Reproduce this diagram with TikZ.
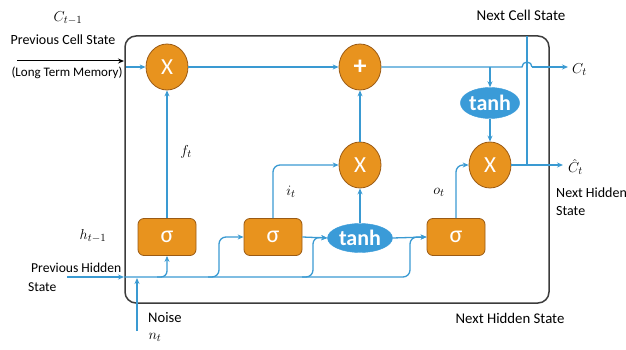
\documentclass[tikz,border=0pt]{standalone}
\usepackage{fontspec}
\setmainfont{Carlito}
\usetikzlibrary{arrows.meta,shapes.geometric}

\definecolor{gateorange}{HTML}{E8931E}
\definecolor{gateedge}{HTML}{9A5A14}
\definecolor{flowblue}{HTML}{3A9AD2}
\definecolor{tanhblue}{HTML}{3A9BD8}
\definecolor{framegray}{HTML}{3C3C3C}

\tikzset{
  flow/.style={draw=flowblue, line width=1.3pt, -{Stealth[length=6pt,width=5pt]}},
  plainflow/.style={draw=flowblue, line width=1.3pt},
  opgate/.style={ellipse, fill=gateorange, draw=gateedge, line width=0.8pt,
    minimum width=42pt, minimum height=46pt, inner sep=0pt,
    text=white, font=\fontsize{23}{23}\selectfont},
  sigbox/.style={rectangle, rounded corners=6pt, fill=gateorange, draw=gateedge,
    line width=0.8pt, minimum width=58pt, minimum height=37pt, inner sep=0pt,
    text=white, font=\fontsize{24}{24}\selectfont},
  tanhnode/.style={ellipse, fill=tanhblue, draw=tanhblue, inner sep=0pt,
    text=white, font=\bfseries\fontsize{22}{22}\selectfont},
  lbl/.style={inner sep=0pt, font=\fontsize{14}{16}\selectfont},
  mathlbl/.style={inner sep=0pt, font=\fontsize{15}{15}\selectfont}
}

\begin{document}
\begin{tikzpicture}[x=1pt, y=-1pt]
\useasboundingbox (0,0) rectangle (626,350);

% cell frame
\draw[framegray, line width=1.5pt, rounded corners=11pt] (125,36) rectangle (549,303);

% operations
\node[opgate] (fX) at (167,67) {X};
\node[opgate, font=\bfseries\fontsize{26}{26}\selectfont] (plus) at (360,67) {+};
\node[opgate] (mX) at (360,165) {X};
\node[opgate] (oX) at (490,165) {X};
\node[tanhnode, minimum width=58pt, minimum height=31pt] (tt) at (490,103) {tanh};
\node[tanhnode, minimum width=65pt, minimum height=29pt] (tm) at (360,238) {tanh};
\node[sigbox] (s1) at (167,237) {σ};
\node[sigbox] (s2) at (273,237) {σ};
\node[sigbox] (s3) at (456,237) {σ};

% cell state input
\coordinate (cin) at (17,61);
\coordinate (cedge) at (124,61);
\draw[black, line width=1pt, -{Stealth[length=6pt,width=5pt]}] (cin) -- (cedge);
\coordinate (cbox) at (126,67);
\draw[flow] (cbox) -- (fX.west);
\draw[flow] (fX.east) -- (plus.west);

% cell state output with a hop over the hidden-state riser
\coordinate (hopa) at (522,67);
\coordinate (hopb) at (532,67);
\coordinate (cout) at (568,67);
\coordinate (tap) at (490,67);
\draw[plainflow] (plus.east) -- (hopa) arc[start angle=180, end angle=0, radius=5pt];
\draw[flow] (hopb) -- (cout);
\draw[flow] (tap) -- (tt.north);
\draw[flow] (tt.south) -- (oX.north);

% hidden state output
\coordinate (hout) at (563,165);
\coordinate (rise) at (527,165);
\coordinate (risetop) at (527,36);
\draw[flow] (oX.east) -- (hout);
\draw[plainflow] (rise) -- (risetop);

% gate outputs
\draw[flow] (s1.north) -- (fX.south);
\draw[flow, rounded corners=7pt] (s2.north) |- (mX.west);
\draw[flow] (tm.north) -- (mX.south);
\draw[flow] (mX.north) -- (plus.south);
\draw[flow, rounded corners=7pt] (s3.north) |- (oX.west);
\draw[flow] (s2.east) -- (tm.west);
\draw[flow] (tm.east) -- (s3.west);

% previous hidden state bus
\coordinate (hin) at (67,277);
\coordinate (hedge) at (124,277);
\coordinate (hend) at (410,237);
\draw[flow] (hin) -- (hedge);
\draw[flow, rounded corners=7pt] (hedge) -| (hend) -- (s3.west);
\coordinate (b1) at (157,277);
\draw[flow, rounded corners=6pt] (b1) -| (s1.south);
\coordinate (b2) at (208,277);
\coordinate (b2up) at (219,237);
\draw[flow, rounded corners=7pt] (b2) -| (b2up) -- (s2.west);
\coordinate (b3) at (302,277);
\coordinate (b3up) at (313,237);
\draw[flow, rounded corners=7pt] (b3) -| (b3up) -- (tm.west);

% noise input
\coordinate (nin) at (137,331);
\coordinate (njoin) at (137,278);
\draw[flow] (nin) -- (njoin);

% labels
\node[mathlbl] (lC) at (68,18) {$C_{t-1}$};
\node[lbl] (lPCS) at (63,40) {Previous Cell State};
\node[lbl, font=\fontsize{13}{15}\selectfont] (lLTM) at (67,73) {(Long Term Memory)};
\node[mathlbl] (lh) at (93,236) {$h_{t-1}$};
\node[lbl, anchor=west, font=\fontsize{13.6}{15}\selectfont] (lPH) at (31,268) {Previous Hidden};
\node[lbl, anchor=west, font=\fontsize{13.6}{15}\selectfont] (lPHs) at (28,287) {State};
\node[lbl, anchor=west, font=\fontsize{14.6}{16}\selectfont] (lN) at (148,318) {Noise};
\node[mathlbl] (ln) at (155,337) {$n_t$};
\node[lbl, font=\fontsize{15}{16}\selectfont] (lNCS) at (521,15) {Next Cell State};
\node[mathlbl, anchor=west] (lCt) at (572,70) {$C_t$};
\node[mathlbl, anchor=west] (lCh) at (568,167) {$\hat{C}_t$};
\node[lbl, anchor=west] (lNH) at (556,193) {Next Hidden};
\node[lbl, anchor=west] (lNHs) at (556,211) {State};
\node[lbl, font=\fontsize{14.8}{16}\selectfont] (lNHS) at (510,318) {Next Hidden State};
\node[mathlbl] (lf) at (186,152) {$f_t$};
\node[mathlbl] (li) at (291,192) {$i_t$};
\node[mathlbl] (lo) at (439,192) {$o_t$};
\end{tikzpicture}
\end{document}
